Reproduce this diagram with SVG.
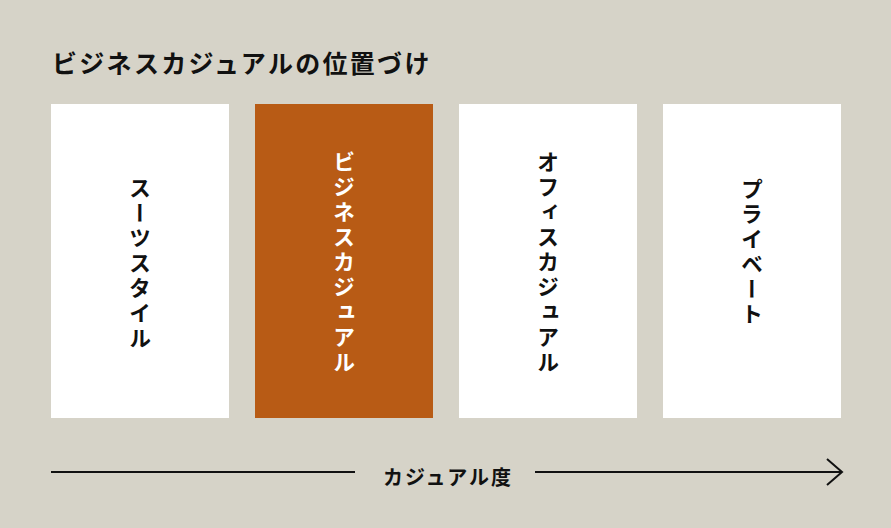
<svg xmlns="http://www.w3.org/2000/svg" width="891" height="528" viewBox="0 0 891 528">
<style>
.card{fill:#ffffff}
.hl{fill:#b85b15}
.vt{font-family:"Noto Sans CJK JP","Noto Sans",sans-serif;font-size:22px;font-weight:700;writing-mode:vertical-rl;letter-spacing:3px;text-anchor:middle;fill:#111111}
.title{font-family:"Noto Sans CJK JP","Noto Sans",sans-serif;font-size:25px;font-weight:700;letter-spacing:2.3px;fill:#111111}
.axis{font-family:"Noto Sans CJK JP","Noto Sans",sans-serif;font-size:20px;font-weight:700;letter-spacing:2px;fill:#111111}
.ln{stroke:#111111;stroke-width:2;fill:none}
</style>
<rect width="891" height="528" fill="#d6d3c8"/>
<text class="title" x="52" y="73">ビジネスカジュアルの位置づけ</text>
<g id="node-suit">
<rect class="card" x="51" y="104" width="178" height="314"/>
<text class="vt" x="140" y="264">スーツスタイル</text>
</g>
<g id="node-business">
<rect class="hl" x="255" y="104" width="178" height="314"/>
<text class="vt" x="344" y="263" style="fill:#ffffff">ビジネスカジュアル</text>
</g>
<g id="node-office">
<rect class="card" x="459" y="104" width="178" height="314"/>
<text class="vt" x="548" y="263">オフィスカジュアル</text>
</g>
<g id="node-private">
<rect class="card" x="663" y="104" width="178" height="314"/>
<text class="vt" x="752" y="253">プライベート</text>
</g>
<g id="connectors">
<line class="ln" x1="51" y1="472" x2="355" y2="472"/>
<line class="ln" x1="535" y1="472" x2="842" y2="472"/>
<polyline class="ln" points="827,459 842,472 827,485"/>
<text class="axis" x="383" y="485">カジュアル度</text>
</g>
</svg>
